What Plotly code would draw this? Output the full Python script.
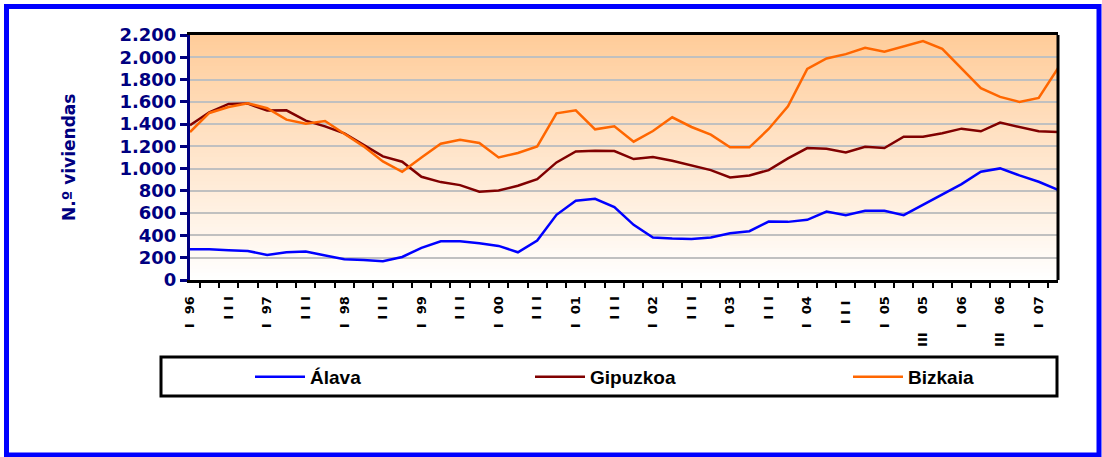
import plotly.graph_objects as go

# ---------------- data ----------------
years = [str(y) for y in range(1996, 2008)]
quarters = ["I", "II", "III", "IV"]
categories = [f"{y} {q}" for y in years for q in quarters][:46]

alava = [276, 276, 267, 261, 225, 249, 255, 222, 186, 180, 168, 207, 288, 348, 348, 330,
         306, 249, 354, 585, 711, 729, 654, 495, 381, 372, 369, 381, 420, 438, 525, 522,
         540, 615, 582, 621, 621, 582, 675, 774, 861, 972, 1002, 939, 882, 810]
gipuzkoa = [1389, 1506, 1581, 1584, 1521, 1524, 1431, 1380, 1317, 1215, 1110, 1062, 927, 879,
            852, 792, 804, 846, 906, 1056, 1155, 1161, 1158, 1086, 1104, 1071, 1029, 987, 921,
            939, 987, 1092, 1185, 1179, 1146, 1197, 1185, 1287, 1287, 1317, 1359, 1335, 1413,
            1374, 1335, 1329]
bizkaia = [1329, 1500, 1554, 1587, 1542, 1440, 1404, 1428, 1314, 1200, 1065, 972, 1101, 1224,
           1260, 1230, 1101, 1140, 1200, 1497, 1524, 1353, 1380, 1242, 1338, 1461, 1374, 1305,
           1191, 1191, 1356, 1560, 1896, 1989, 2028, 2085, 2049, 2094, 2145, 2076, 1896, 1722,
           1644, 1599, 1635, 1902]

NB = "\u00a0"
tick_labels = []
for c in categories:
    y, q = c.split()
    yy = y[2:]
    if q == "I":
        tick_labels.append("I" + NB * 2 + yy)
    elif q == "III":
        if y in ("2005", "2006"):
            tick_labels.append("III" + NB * 4 + yy)
        elif y == "2004":
            tick_labels.append("I" + NB + "I" + NB + "I" + NB)
        else:
            tick_labels.append("I" + NB + "I" + NB + "I")
    else:
        tick_labels.append("")

# ---------------- layout geometry ----------------
W, H = 1102, 457
L, R, T, B = 190, 1058, 35, 280
PW, PH = R - L, B - T


def px(x):
    return (x - L) / PW


def py(y):
    return (B - y) / PH


NAVY = "#000080"
fig = go.Figure()

series = [("Álava", alava, "#0000FF", "legend"),
          ("Gipuzkoa", gipuzkoa, "#800000", "legend2"),
          ("Bizkaia", bizkaia, "#FF6600", "legend3")]
for name, vals, col, lg in series:
    fig.add_trace(go.Scatter(x=categories, y=vals, mode="lines", name=name,
                             line=dict(color=col, width=2.5), legend=lg))

shapes = []
# gradient background bands
nb = 70
top = (255, 204, 153)
bot = (255, 255, 255)
for i in range(nb):
    f = (i + 0.5) / nb
    c = tuple(round(top[k] + (bot[k] - top[k]) * f) for k in range(3))
    shapes.append(dict(type="rect", xref="paper", yref="paper",
                       x0=0, x1=1, y0=1 - (i + 1) / nb, y1=1 - i / nb + 0.002,
                       fillcolor=f"rgb{c}", line=dict(width=0), layer="below"))
# right border of plot area
shapes.append(dict(type="line", xref="paper", yref="paper", x0=1, x1=1, y0=0, y1=1,
                   line=dict(color="black", width=3)))
# legend box
shapes.append(dict(type="rect", xref="paper", yref="paper",
                   x0=px(161), x1=px(1057), y0=py(396), y1=py(357),
                   line=dict(color="black", width=3), fillcolor="rgba(0,0,0,0)"))
# outer blue frame
shapes.append(dict(type="rect", xref="paper", yref="paper",
                   x0=px(6.5), x1=px(1099), y0=py(455), y1=py(6.5),
                   line=dict(color="#0000FF", width=5), fillcolor="rgba(0,0,0,0)"))

legend_font = dict(family="Liberation Sans, Arial", size=19, color="black", weight="bold")
leg_common = dict(orientation="h", xanchor="left", yanchor="middle", bgcolor="rgba(0,0,0,0)",
                  borderwidth=0, font=legend_font, itemwidth=50)

fig.update_layout(
    width=W, height=H,
    margin=dict(l=L, r=W - R, t=T, b=H - B),
    paper_bgcolor="white", plot_bgcolor="white",
    separators=",.",
    showlegend=True,
    legend=dict(x=px(250), y=py(377), **leg_common),
    legend2=dict(x=px(530), y=py(377), **leg_common),
    legend3=dict(x=px(848), y=py(377), **leg_common),
    shapes=shapes,
    annotations=[dict(text="N.º viviendas", xref="paper", yref="paper",
                      x=px(69), y=py(158), textangle=-90, showarrow=False,
                      xanchor="center", yanchor="middle",
                      font=dict(family="DejaVu Sans", size=17, color=NAVY, weight="bold"))],
)

fig.update_xaxes(
    type="category", categoryorder="array", categoryarray=categories,
    tickmode="array", tickvals=categories, ticktext=tick_labels,
    tickson="boundaries", ticks="outside", ticklen=5, tickwidth=2, tickcolor="black",
    tickangle=-90, ticklabelstandoff=8,
    tickfont=dict(family="DejaVu Sans", size=13, color="black", weight="bold"),
    showline=True, linecolor="black", linewidth=3, mirror=True,
    showgrid=False, zeroline=False,
)
fig.update_yaxes(
    range=[0, 2200], tickmode="linear", tick0=0, dtick=200, tickformat=",d",
    ticks="outside", ticklen=7, tickwidth=3, tickcolor=NAVY,
    tickfont=dict(family="DejaVu Sans", size=18, color=NAVY, weight="bold"),
    showline=True, linecolor=NAVY, linewidth=3,
    showgrid=True, gridcolor="#C0C0C0", gridwidth=2, zeroline=False,
)

fig.write_html("out.html", config={"displayModeBar": False},
               post_script="document.body.style.margin='0';document.body.style.overflow='hidden';")
